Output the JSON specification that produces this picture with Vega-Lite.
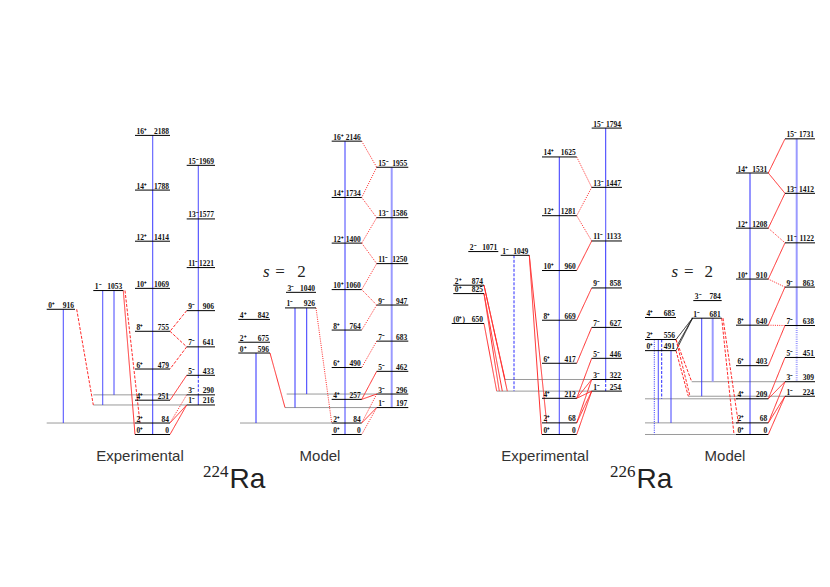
{
"$schema":"https://vega.github.io/schema/vega-lite/v6.json",
"padding":0,
"spacing":0,
"background":"white",
"config":{"view":{"stroke":null},"concat":{"spacing":0}},
"datasets":{
"levels":[
{"nuc":"224","x":135,"x2":170,"e":0,"spin":"0⁺","en":"0"},
{"nuc":"224","x":135,"x2":170,"e":84,"spin":"2⁺","en":"84"},
{"nuc":"224","x":135,"x2":170,"e":251,"spin":"4⁺","en":"251"},
{"nuc":"224","x":135,"x2":170,"e":479,"spin":"6⁺","en":"479"},
{"nuc":"224","x":135,"x2":170,"e":755,"spin":"8⁺","en":"755"},
{"nuc":"224","x":135,"x2":170,"e":1069,"spin":"10⁺","en":"1069"},
{"nuc":"224","x":135,"x2":170,"e":1414,"spin":"12⁺","en":"1414"},
{"nuc":"224","x":135,"x2":170,"e":1788,"spin":"14⁺","en":"1788"},
{"nuc":"224","x":135,"x2":170,"e":2188,"spin":"16⁺","en":"2188"},
{"nuc":"224","x":186.7,"x2":215,"e":216,"spin":"1⁻","en":"216"},
{"nuc":"224","x":186.7,"x2":215,"e":290,"spin":"3⁻","en":"290"},
{"nuc":"224","x":186.7,"x2":215,"e":433,"spin":"5⁻","en":"433"},
{"nuc":"224","x":186.7,"x2":215,"e":641,"spin":"7⁻","en":"641"},
{"nuc":"224","x":186.7,"x2":215,"e":906,"spin":"9⁻","en":"906"},
{"nuc":"224","x":186.7,"x2":215,"e":1221,"spin":"11⁻","en":"1221"},
{"nuc":"224","x":186.7,"x2":215,"e":1577,"spin":"13⁻","en":"1577"},
{"nuc":"224","x":186.7,"x2":215,"e":1969,"spin":"15⁻","en":"1969"},
{"nuc":"224","x":46.7,"x2":75,"e":916,"spin":"0⁺","en":"916"},
{"nuc":"224","x":93.3,"x2":123.3,"e":1053,"spin":"1⁻","en":"1053"},
{"nuc":"224","x":331.7,"x2":361.7,"e":0,"spin":"0⁺","en":"0"},
{"nuc":"224","x":331.7,"x2":361.7,"e":84,"spin":"2⁺","en":"84"},
{"nuc":"224","x":331.7,"x2":361.7,"e":257,"spin":"4⁺","en":"257"},
{"nuc":"224","x":331.7,"x2":361.7,"e":490,"spin":"6⁺","en":"490"},
{"nuc":"224","x":331.7,"x2":361.7,"e":764,"spin":"8⁺","en":"764"},
{"nuc":"224","x":331.7,"x2":361.7,"e":1060,"spin":"10⁺","en":"1060"},
{"nuc":"224","x":331.7,"x2":361.7,"e":1400,"spin":"12⁺","en":"1400"},
{"nuc":"224","x":331.7,"x2":361.7,"e":1734,"spin":"14⁺","en":"1734"},
{"nuc":"224","x":331.7,"x2":361.7,"e":2146,"spin":"16⁺","en":"2146"},
{"nuc":"224","x":376.7,"x2":408.3,"e":197,"spin":"1⁻","en":"197"},
{"nuc":"224","x":376.7,"x2":408.3,"e":296,"spin":"3⁻","en":"296"},
{"nuc":"224","x":376.7,"x2":408.3,"e":462,"spin":"5⁻","en":"462"},
{"nuc":"224","x":376.7,"x2":408.3,"e":683,"spin":"7⁻","en":"683"},
{"nuc":"224","x":376.7,"x2":408.3,"e":947,"spin":"9⁻","en":"947"},
{"nuc":"224","x":376.7,"x2":408.3,"e":1250,"spin":"11⁻","en":"1250"},
{"nuc":"224","x":376.7,"x2":408.3,"e":1586,"spin":"13⁻","en":"1586"},
{"nuc":"224","x":376.7,"x2":408.3,"e":1955,"spin":"15⁻","en":"1955"},
{"nuc":"224","x":238.3,"x2":270,"e":842,"spin":"4⁺","en":"842"},
{"nuc":"224","x":238.3,"x2":270,"e":675,"spin":"2⁺","en":"675"},
{"nuc":"224","x":238.3,"x2":270,"e":596,"spin":"0⁺","en":"596"},
{"nuc":"224","x":286,"x2":316,"e":1040,"spin":"3⁻","en":"1040"},
{"nuc":"224","x":285,"x2":316,"e":926,"spin":"1⁻","en":"926"},
{"nuc":"226","x":542,"x2":576.7,"e":0,"spin":"0⁺","en":"0"},
{"nuc":"226","x":542,"x2":576.7,"e":68,"spin":"2⁺","en":"68"},
{"nuc":"226","x":542,"x2":576.7,"e":212,"spin":"4⁺","en":"212"},
{"nuc":"226","x":542,"x2":576.7,"e":417,"spin":"6⁺","en":"417"},
{"nuc":"226","x":542,"x2":576.7,"e":669,"spin":"8⁺","en":"669"},
{"nuc":"226","x":542,"x2":576.7,"e":960,"spin":"10⁺","en":"960"},
{"nuc":"226","x":542,"x2":576.7,"e":1281,"spin":"12⁺","en":"1281"},
{"nuc":"226","x":542,"x2":576.7,"e":1625,"spin":"14⁺","en":"1625"},
{"nuc":"226","x":591.7,"x2":622,"e":254,"spin":"1⁻","en":"254"},
{"nuc":"226","x":591.7,"x2":622,"e":322,"spin":"3⁻","en":"322"},
{"nuc":"226","x":591.7,"x2":622,"e":446,"spin":"5⁻","en":"446"},
{"nuc":"226","x":591.7,"x2":622,"e":627,"spin":"7⁻","en":"627"},
{"nuc":"226","x":591.7,"x2":622,"e":858,"spin":"9⁻","en":"858"},
{"nuc":"226","x":591.7,"x2":622,"e":1133,"spin":"11⁻","en":"1133"},
{"nuc":"226","x":591.7,"x2":622,"e":1447,"spin":"13⁻","en":"1447"},
{"nuc":"226","x":591.7,"x2":622,"e":1794,"spin":"15⁻","en":"1794"},
{"nuc":"226","x":468.3,"x2":498.3,"e":1071,"spin":"2⁻","en":"1071"},
{"nuc":"226","x":500.7,"x2":529.3,"e":1049,"spin":"1⁻","en":"1049"},
{"nuc":"226","x":453.3,"x2":484,"e":874,"spin":"2⁺","en":"874"},
{"nuc":"226","x":453.3,"x2":484,"e":825,"spin":"0⁺","en":"825"},
{"nuc":"226","x":451.7,"x2":484,"e":650,"spin":"(0⁺)","en":"650"},
{"nuc":"226","x":736,"x2":768.3,"e":0,"spin":"0⁺","en":"0"},
{"nuc":"226","x":736,"x2":768.3,"e":68,"spin":"2⁺","en":"68"},
{"nuc":"226","x":736,"x2":768.3,"e":209,"spin":"4⁺","en":"209"},
{"nuc":"226","x":736,"x2":768.3,"e":403,"spin":"6⁺","en":"403"},
{"nuc":"226","x":736,"x2":768.3,"e":640,"spin":"8⁺","en":"640"},
{"nuc":"226","x":736,"x2":768.3,"e":910,"spin":"10⁺","en":"910"},
{"nuc":"226","x":736,"x2":768.3,"e":1208,"spin":"12⁺","en":"1208"},
{"nuc":"226","x":736,"x2":768.3,"e":1531,"spin":"14⁺","en":"1531"},
{"nuc":"226","x":785,"x2":815,"e":224,"spin":"1⁻","en":"224"},
{"nuc":"226","x":785,"x2":815,"e":309,"spin":"3⁻","en":"309"},
{"nuc":"226","x":785,"x2":815,"e":451,"spin":"5⁻","en":"451"},
{"nuc":"226","x":785,"x2":815,"e":638,"spin":"7⁻","en":"638"},
{"nuc":"226","x":785,"x2":815,"e":863,"spin":"9⁻","en":"863"},
{"nuc":"226","x":785,"x2":815,"e":1122,"spin":"11⁻","en":"1122"},
{"nuc":"226","x":785,"x2":815,"e":1412,"spin":"13⁻","en":"1412"},
{"nuc":"226","x":785,"x2":815,"e":1731,"spin":"15⁻","en":"1731"},
{"nuc":"226","x":645,"x2":676,"e":685,"spin":"4⁺","en":"685"},
{"nuc":"226","x":645,"x2":676,"e":556,"spin":"2⁺","en":"556"},
{"nuc":"226","x":645,"x2":676,"e":491,"spin":"0⁺","en":"491"},
{"nuc":"226","x":693.3,"x2":721.7,"e":784,"spin":"3⁻","en":"784"},
{"nuc":"226","x":691.7,"x2":721.7,"e":681,"spin":"1⁻","en":"681"}
],
"gray":[
{"nuc":"224","x":46.7,"x2":135,"e":84},
{"nuc":"224","x":93.3,"x2":186.7,"e":216},
{"nuc":"224","x":93.3,"x2":186.7,"e":290},
{"nuc":"224","x":240,"x2":331.7,"e":84},
{"nuc":"224","x":285,"x2":376.7,"e":197},
{"nuc":"224","x":286.7,"x2":376.7,"e":296},
{"nuc":"226","x":496.7,"x2":591.7,"e":254},
{"nuc":"226","x":505,"x2":591.7,"e":322},
{"nuc":"226","x":645,"x2":736,"e":0},
{"nuc":"226","x":645,"x2":738,"e":68},
{"nuc":"226","x":645,"x2":738,"e":209},
{"nuc":"226","x":688.3,"x2":785,"e":224},
{"nuc":"226","x":691.7,"x2":785,"e":309}
],
"trans":[
{"nuc":"224","x":152.7,"e":2188,"x2":152.7,"e2":1788,"type":"E2","style":"solid"},
{"nuc":"224","x":152.7,"e":1788,"x2":152.7,"e2":1414,"type":"E2","style":"solid"},
{"nuc":"224","x":152.7,"e":1414,"x2":152.7,"e2":1069,"type":"E2","style":"solid"},
{"nuc":"224","x":152.7,"e":1069,"x2":152.7,"e2":755,"type":"E2","style":"solid"},
{"nuc":"224","x":152.7,"e":755,"x2":152.7,"e2":479,"type":"E2","style":"solid"},
{"nuc":"224","x":152.7,"e":479,"x2":152.7,"e2":251,"type":"E2","style":"solid"},
{"nuc":"224","x":152.7,"e":251,"x2":152.7,"e2":84,"type":"E2","style":"solid"},
{"nuc":"224","x":152.7,"e":84,"x2":152.7,"e2":0,"type":"E2","style":"solid"},
{"nuc":"224","x":198.3,"e":1969,"x2":198.3,"e2":1577,"type":"E2","style":"solid"},
{"nuc":"224","x":198.3,"e":1577,"x2":198.3,"e2":1221,"type":"E2","style":"solid"},
{"nuc":"224","x":198.3,"e":1221,"x2":198.3,"e2":906,"type":"E2","style":"solid"},
{"nuc":"224","x":198.3,"e":906,"x2":198.3,"e2":641,"type":"E2","style":"solid"},
{"nuc":"224","x":198.3,"e":641,"x2":198.3,"e2":433,"type":"E2","style":"solid"},
{"nuc":"224","x":198.3,"e":433,"x2":198.3,"e2":290,"type":"E2","style":"dashed"},
{"nuc":"224","x":198.3,"e":290,"x2":198.3,"e2":216,"type":"E2","style":"solid"},
{"nuc":"224","x":63.3,"e":916,"x2":63.3,"e2":84,"type":"E2","style":"solid"},
{"nuc":"224","x":102.7,"e":1053,"x2":102.7,"e2":216,"type":"E2","style":"solid"},
{"nuc":"224","x":114,"e":1053,"x2":114,"e2":290,"type":"E2","style":"solid"},
{"nuc":"224","x":76.7,"e":916,"x2":93.3,"e2":216,"type":"E1","style":"dashed"},
{"nuc":"224","x":123.3,"e":1053,"x2":135,"e2":0,"type":"E1","style":"solid"},
{"nuc":"224","x":125,"e":1053,"x2":140,"e2":84,"type":"E1","style":"dashed"},
{"nuc":"224","x":186.7,"e":216,"x2":170,"e2":0,"type":"E1","style":"solid"},
{"nuc":"224","x":186.7,"e":216,"x2":170,"e2":84,"type":"E1","style":"solid"},
{"nuc":"224","x":186.7,"e":290,"x2":170,"e2":84,"type":"E1","style":"dotted"},
{"nuc":"224","x":186.7,"e":433,"x2":170,"e2":251,"type":"E1","style":"solid"},
{"nuc":"224","x":186.7,"e":641,"x2":170,"e2":479,"type":"E1","style":"dashed"},
{"nuc":"224","x":170,"e":755,"x2":186.7,"e2":641,"type":"E1","style":"dashed"},
{"nuc":"224","x":186.7,"e":906,"x2":170,"e2":755,"type":"E1","style":"dashed"},
{"nuc":"224","x":345,"e":2146,"x2":345,"e2":1734,"type":"E2","style":"solid"},
{"nuc":"224","x":345,"e":1734,"x2":345,"e2":1400,"type":"E2","style":"solid"},
{"nuc":"224","x":345,"e":1400,"x2":345,"e2":1060,"type":"E2","style":"solid"},
{"nuc":"224","x":345,"e":1060,"x2":345,"e2":764,"type":"E2","style":"solid"},
{"nuc":"224","x":345,"e":764,"x2":345,"e2":490,"type":"E2","style":"solid"},
{"nuc":"224","x":345,"e":490,"x2":345,"e2":257,"type":"E2","style":"solid"},
{"nuc":"224","x":345,"e":257,"x2":345,"e2":84,"type":"E2","style":"solid"},
{"nuc":"224","x":345,"e":84,"x2":345,"e2":0,"type":"E2","style":"solid"},
{"nuc":"224","x":391.7,"e":1955,"x2":391.7,"e2":1586,"type":"E2w","style":"solid"},
{"nuc":"224","x":391.7,"e":1586,"x2":391.7,"e2":1250,"type":"E2w","style":"solid"},
{"nuc":"224","x":391.7,"e":1250,"x2":391.7,"e2":947,"type":"E2w","style":"solid"},
{"nuc":"224","x":391.7,"e":947,"x2":391.7,"e2":683,"type":"E2w","style":"solid"},
{"nuc":"224","x":391.7,"e":683,"x2":391.7,"e2":462,"type":"E2w","style":"solid"},
{"nuc":"224","x":391.7,"e":462,"x2":391.7,"e2":296,"type":"E2w","style":"solid"},
{"nuc":"224","x":391.7,"e":296,"x2":391.7,"e2":197,"type":"E2w","style":"solid"},
{"nuc":"224","x":256,"e":596,"x2":256,"e2":84,"type":"E2","style":"solid"},
{"nuc":"224","x":295,"e":926,"x2":295,"e2":197,"type":"E2","style":"solid"},
{"nuc":"224","x":306.7,"e":926,"x2":306.7,"e2":296,"type":"E2","style":"solid"},
{"nuc":"224","x":270,"e":596,"x2":285,"e2":197,"type":"E1","style":"solid"},
{"nuc":"224","x":316,"e":926,"x2":331.7,"e2":84,"type":"E1","style":"dotted"},
{"nuc":"224","x":361.7,"e":2146,"x2":376.7,"e2":1955,"type":"E1","style":"dotted"},
{"nuc":"224","x":376.7,"e":1955,"x2":361.7,"e2":1734,"type":"E1","style":"dotted"},
{"nuc":"224","x":361.7,"e":1734,"x2":376.7,"e2":1586,"type":"E1","style":"dotted"},
{"nuc":"224","x":376.7,"e":1586,"x2":361.7,"e2":1400,"type":"E1","style":"dotted"},
{"nuc":"224","x":361.7,"e":1400,"x2":376.7,"e2":1250,"type":"E1","style":"dotted"},
{"nuc":"224","x":376.7,"e":1250,"x2":361.7,"e2":1060,"type":"E1","style":"dotted"},
{"nuc":"224","x":361.7,"e":1060,"x2":376.7,"e2":947,"type":"E1","style":"dotted"},
{"nuc":"224","x":376.7,"e":947,"x2":361.7,"e2":764,"type":"E1","style":"dotted"},
{"nuc":"224","x":376.7,"e":683,"x2":361.7,"e2":490,"type":"E1","style":"dotted"},
{"nuc":"224","x":376.7,"e":462,"x2":361.7,"e2":257,"type":"E1","style":"solid"},
{"nuc":"224","x":376.7,"e":296,"x2":361.7,"e2":257,"type":"E1","style":"solid"},
{"nuc":"224","x":376.7,"e":296,"x2":361.7,"e2":84,"type":"E1","style":"dotted"},
{"nuc":"224","x":376.7,"e":197,"x2":361.7,"e2":84,"type":"E1","style":"solid"},
{"nuc":"224","x":376.7,"e":197,"x2":361.7,"e2":0,"type":"E1","style":"dotted"},
{"nuc":"226","x":559.3,"e":1625,"x2":559.3,"e2":1281,"type":"E2","style":"solid"},
{"nuc":"226","x":559.3,"e":1281,"x2":559.3,"e2":960,"type":"E2","style":"solid"},
{"nuc":"226","x":559.3,"e":960,"x2":559.3,"e2":669,"type":"E2","style":"solid"},
{"nuc":"226","x":559.3,"e":669,"x2":559.3,"e2":417,"type":"E2","style":"solid"},
{"nuc":"226","x":559.3,"e":417,"x2":559.3,"e2":212,"type":"E2","style":"solid"},
{"nuc":"226","x":559.3,"e":212,"x2":559.3,"e2":68,"type":"E2","style":"solid"},
{"nuc":"226","x":559.3,"e":68,"x2":559.3,"e2":0,"type":"E2","style":"solid"},
{"nuc":"226","x":605.7,"e":1794,"x2":605.7,"e2":1447,"type":"E2","style":"solid"},
{"nuc":"226","x":605.7,"e":1447,"x2":605.7,"e2":1133,"type":"E2","style":"solid"},
{"nuc":"226","x":605.7,"e":1133,"x2":605.7,"e2":858,"type":"E2","style":"solid"},
{"nuc":"226","x":605.7,"e":858,"x2":605.7,"e2":627,"type":"E2","style":"solid"},
{"nuc":"226","x":605.7,"e":627,"x2":605.7,"e2":446,"type":"E2","style":"solid"},
{"nuc":"226","x":605.7,"e":446,"x2":605.7,"e2":322,"type":"E2","style":"solid"},
{"nuc":"226","x":605.7,"e":322,"x2":605.7,"e2":254,"type":"E2","style":"dashed"},
{"nuc":"226","x":514,"e":1049,"x2":514,"e2":254,"type":"E2","style":"dashed"},
{"nuc":"226","x":529.3,"e":1049,"x2":541.7,"e2":0,"type":"E1","style":"solid"},
{"nuc":"226","x":529.3,"e":1049,"x2":546.7,"e2":68,"type":"E1","style":"solid"},
{"nuc":"226","x":484,"e":650,"x2":496.7,"e2":254,"type":"E1","style":"solid"},
{"nuc":"226","x":484,"e":825,"x2":499.3,"e2":254,"type":"E1","style":"solid"},
{"nuc":"226","x":484,"e":825,"x2":502.3,"e2":254,"type":"E1","style":"solid"},
{"nuc":"226","x":484,"e":874,"x2":505,"e2":322,"type":"E1","style":"solid"},
{"nuc":"226","x":484,"e":874,"x2":507.3,"e2":254,"type":"E1","style":"solid"},
{"nuc":"226","x":576.7,"e":1625,"x2":591.7,"e2":1447,"type":"E1","style":"dotted"},
{"nuc":"226","x":591.7,"e":1447,"x2":576.7,"e2":1281,"type":"E1","style":"dotted"},
{"nuc":"226","x":576.7,"e":1281,"x2":591.7,"e2":1133,"type":"E1","style":"dotted"},
{"nuc":"226","x":591.7,"e":1133,"x2":576.7,"e2":960,"type":"E1","style":"solid"},
{"nuc":"226","x":591.7,"e":858,"x2":576.7,"e2":669,"type":"E1","style":"solid"},
{"nuc":"226","x":591.7,"e":627,"x2":576.7,"e2":417,"type":"E1","style":"solid"},
{"nuc":"226","x":591.7,"e":446,"x2":576.7,"e2":212,"type":"E1","style":"solid"},
{"nuc":"226","x":591.7,"e":322,"x2":576.7,"e2":212,"type":"E1","style":"solid"},
{"nuc":"226","x":591.7,"e":254,"x2":576.7,"e2":212,"type":"E1","style":"solid"},
{"nuc":"226","x":591.7,"e":322,"x2":576.7,"e2":68,"type":"E1","style":"solid"},
{"nuc":"226","x":591.7,"e":254,"x2":576.7,"e2":68,"type":"E1","style":"solid"},
{"nuc":"226","x":591.7,"e":254,"x2":576.7,"e2":0,"type":"E1","style":"solid"},
{"nuc":"226","x":750,"e":1531,"x2":750,"e2":1208,"type":"E2","style":"solid"},
{"nuc":"226","x":750,"e":1208,"x2":750,"e2":910,"type":"E2","style":"solid"},
{"nuc":"226","x":750,"e":910,"x2":750,"e2":640,"type":"E2","style":"solid"},
{"nuc":"226","x":750,"e":640,"x2":750,"e2":403,"type":"E2","style":"solid"},
{"nuc":"226","x":750,"e":403,"x2":750,"e2":209,"type":"E2","style":"solid"},
{"nuc":"226","x":750,"e":209,"x2":750,"e2":68,"type":"E2","style":"solid"},
{"nuc":"226","x":750,"e":68,"x2":750,"e2":0,"type":"E2","style":"solid"},
{"nuc":"226","x":796.7,"e":1731,"x2":796.7,"e2":1412,"type":"E2w","style":"solid"},
{"nuc":"226","x":796.7,"e":1412,"x2":796.7,"e2":1122,"type":"E2w","style":"solid"},
{"nuc":"226","x":796.7,"e":1122,"x2":796.7,"e2":863,"type":"E2w","style":"solid"},
{"nuc":"226","x":796.7,"e":863,"x2":796.7,"e2":638,"type":"E2w","style":"solid"},
{"nuc":"226","x":796.7,"e":638,"x2":796.7,"e2":451,"type":"E2w","style":"dotted"},
{"nuc":"226","x":796.7,"e":451,"x2":796.7,"e2":309,"type":"E2w","style":"dotted"},
{"nuc":"226","x":654.3,"e":556,"x2":654.3,"e2":0,"type":"E2","style":"dotted"},
{"nuc":"226","x":658.3,"e":556,"x2":658.3,"e2":68,"type":"E2","style":"solid"},
{"nuc":"226","x":661.7,"e":556,"x2":661.7,"e2":209,"type":"E2","style":"dashed"},
{"nuc":"226","x":671,"e":491,"x2":671,"e2":68,"type":"E2","style":"solid"},
{"nuc":"226","x":701.7,"e":681,"x2":701.7,"e2":224,"type":"E2","style":"solid"},
{"nuc":"226","x":712.7,"e":681,"x2":712.7,"e2":309,"type":"E2w","style":"solid"},
{"nuc":"226","x":692.5,"e":681,"x2":676,"e2":556,"type":"X","style":"solid"},
{"nuc":"226","x":692.5,"e":681,"x2":677.5,"e2":525,"type":"X","style":"solid"},
{"nuc":"226","x":692.5,"e":681,"x2":676,"e2":491,"type":"X","style":"solid"},
{"nuc":"226","x":676,"e":556,"x2":691.7,"e2":309,"type":"E1","style":"dashed"},
{"nuc":"226","x":676,"e":556,"x2":690,"e2":224,"type":"E1","style":"dashed"},
{"nuc":"226","x":676,"e":491,"x2":688.3,"e2":224,"type":"E1","style":"dashed"},
{"nuc":"226","x":721.7,"e":681,"x2":734,"e2":0,"type":"E1","style":"dashed"},
{"nuc":"226","x":723,"e":681,"x2":738.3,"e2":68,"type":"E1","style":"dashed"},
{"nuc":"226","x":785,"e":1731,"x2":768.3,"e2":1531,"type":"E1","style":"solid"},
{"nuc":"226","x":768.3,"e":1531,"x2":785,"e2":1412,"type":"E1","style":"solid"},
{"nuc":"226","x":785,"e":1412,"x2":768.3,"e2":1208,"type":"E1","style":"solid"},
{"nuc":"226","x":768.3,"e":1208,"x2":785,"e2":1122,"type":"E1","style":"dotted"},
{"nuc":"226","x":785,"e":1122,"x2":768.3,"e2":910,"type":"E1","style":"solid"},
{"nuc":"226","x":768.3,"e":910,"x2":785,"e2":863,"type":"E1","style":"dotted"},
{"nuc":"226","x":785,"e":863,"x2":768.3,"e2":640,"type":"E1","style":"solid"},
{"nuc":"226","x":768.3,"e":640,"x2":785,"e2":638,"type":"E1","style":"dotted"},
{"nuc":"226","x":785,"e":638,"x2":768.3,"e2":403,"type":"E1","style":"solid"},
{"nuc":"226","x":785,"e":451,"x2":768.3,"e2":209,"type":"E1","style":"solid"},
{"nuc":"226","x":785,"e":309,"x2":768.3,"e2":209,"type":"E1","style":"solid"},
{"nuc":"226","x":785,"e":309,"x2":768.3,"e2":68,"type":"E1","style":"solid"},
{"nuc":"226","x":785,"e":224,"x2":768.3,"e2":68,"type":"E1","style":"solid"},
{"nuc":"226","x":785,"e":224,"x2":768.3,"e2":0,"type":"E1","style":"solid"}
],
"notes":[
{"nuc":"224","role":"cap","x":140,"e":-191.7,"text":"Experimental"},
{"nuc":"224","role":"cap","x":320,"e":-191.7,"text":"Model"},
{"nuc":"224","role":"mass","x":228.5,"e":-308.7,"text":"224"},
{"nuc":"224","role":"elem","x":229.5,"e":-393.6,"text":"Ra"},
{"nuc":"224","role":"s","x":266.3,"e":1150,"text":"s"},
{"nuc":"224","role":"math","x":280,"e":1150,"text":"="},
{"nuc":"224","role":"math","x":301.5,"e":1150,"text":"2"},
{"nuc":"226","role":"cap","x":545,"e":-153.4,"text":"Experimental"},
{"nuc":"226","role":"cap","x":725,"e":-153.4,"text":"Model"},
{"nuc":"226","role":"mass","x":635.5,"e":-247,"text":"226"},
{"nuc":"226","role":"elem","x":636.5,"e":-315,"text":"Ra"},
{"nuc":"226","role":"s","x":674.7,"e":920.4,"text":"s"},
{"nuc":"226","role":"math","x":688.7,"e":920.4,"text":"="},
{"nuc":"226","role":"math","x":708.7,"e":920.4,"text":"2"}
]
},
"hconcat":[
{
"width":415,"height":587,
"encoding":{
"x":{"field":"x","type":"quantitative","scale":{"domain":[0,415],"nice":false,"zero":false},"axis":null},
"y":{"field":"e","type":"quantitative","scale":{"domain":[-1115.6,3178.5],"nice":false,"zero":false},"axis":null}
},
"layer":[
{"data":{"name":"gray"},"transform":[{"filter":"datum.nuc=='224'"}],"mark":{"type":"rule","color":"#9a9a9a","strokeWidth":1},"encoding":{"x2":{"field":"x2"}}},
{"data":{"name":"trans"},"transform":[{"filter":"datum.nuc=='224' && datum.type=='E2w'"}],"mark":{"type":"rule","color":"#9a9aff","strokeWidth":2},"encoding":{"x2":{"field":"x2"},"y2":{"field":"e2"},
"strokeDash":{"field":"style","type":"nominal","scale":{"domain":["solid","dashed","dotted"],"range":[[1,0],[3,1.5],[1,1.2]]},"legend":null}}},
{"data":{"name":"trans"},"transform":[{"filter":"datum.nuc=='224' && datum.type!='E2w'"}],"mark":{"type":"rule","strokeWidth":1},"encoding":{"x2":{"field":"x2"},"y2":{"field":"e2"},
"color":{"field":"type","type":"nominal","scale":{"domain":["E2","E1","X"],"range":["#2a2aff","#ff2a2a","#222222"]},"legend":null},
"strokeDash":{"field":"style","type":"nominal","scale":{"domain":["solid","dashed","dotted"],"range":[[1,0],[3,1.5],[1,1.2]]},"legend":null}}},
{"data":{"name":"levels"},"transform":[{"filter":"datum.nuc=='224'"}],"mark":{"type":"rule","color":"#000000","strokeWidth":1},"encoding":{"x2":{"field":"x2"}}},
{"data":{"name":"levels"},"transform":[{"filter":"datum.nuc=='224'"}],"mark":{"type":"text","align":"left","baseline":"alphabetic","dx":1.5,"dy":-1.5,"font":"Liberation Serif","fontSize":7.5,"fontWeight":"bold","color":"#111"},"encoding":{"text":{"field":"spin"}}},
{"data":{"name":"levels"},"transform":[{"filter":"datum.nuc=='224'"}],"mark":{"type":"text","align":"right","baseline":"alphabetic","dx":-1,"dy":-1.5,"font":"Liberation Serif","fontSize":7.5,"fontWeight":"bold","color":"#111"},"encoding":{"x":{"field":"x2","type":"quantitative","scale":{"domain":[0,415],"nice":false,"zero":false},"axis":null},"text":{"field":"en"}}},
{"data":{"name":"notes"},"transform":[{"filter":"datum.nuc=='224' && datum.role=='cap'"}],"mark":{"type":"text","align":"center","baseline":"alphabetic","font":"Liberation Sans","fontSize":15,"color":"#333"},"encoding":{"text":{"field":"text"}}},
{"data":{"name":"notes"},"transform":[{"filter":"datum.nuc=='224' && datum.role=='mass'"}],"mark":{"type":"text","align":"right","baseline":"alphabetic","font":"Liberation Serif","fontSize":17,"color":"#222"},"encoding":{"text":{"field":"text"}}},
{"data":{"name":"notes"},"transform":[{"filter":"datum.nuc=='224' && datum.role=='elem'"}],"mark":{"type":"text","align":"left","baseline":"alphabetic","font":"Liberation Sans","fontSize":28,"color":"#222"},"encoding":{"text":{"field":"text"}}},
{"data":{"name":"notes"},"transform":[{"filter":"datum.nuc=='224' && datum.role=='s'"}],"mark":{"type":"text","align":"center","baseline":"alphabetic","font":"Liberation Serif","fontStyle":"italic","fontSize":17,"color":"#222"},"encoding":{"text":{"field":"text"}}},
{"data":{"name":"notes"},"transform":[{"filter":"datum.nuc=='224' && datum.role=='math'"}],"mark":{"type":"text","align":"center","baseline":"alphabetic","font":"Liberation Serif","fontSize":17,"color":"#222"},"encoding":{"text":{"field":"text"}}}
]
},
{
"width":415,"height":587,
"encoding":{
"x":{"field":"x","type":"quantitative","scale":{"domain":[415,830],"nice":false,"zero":false},"axis":null},
"y":{"field":"e","type":"quantitative","scale":{"domain":[-892.9,2543.9],"nice":false,"zero":false},"axis":null}
},
"layer":[
{"data":{"name":"gray"},"transform":[{"filter":"datum.nuc=='226'"}],"mark":{"type":"rule","color":"#9a9a9a","strokeWidth":1},"encoding":{"x2":{"field":"x2"}}},
{"data":{"name":"trans"},"transform":[{"filter":"datum.nuc=='226' && datum.type=='E2w'"}],"mark":{"type":"rule","color":"#9a9aff","strokeWidth":2},"encoding":{"x2":{"field":"x2"},"y2":{"field":"e2"},
"strokeDash":{"field":"style","type":"nominal","scale":{"domain":["solid","dashed","dotted"],"range":[[1,0],[3,1.5],[1,1.2]]},"legend":null}}},
{"data":{"name":"trans"},"transform":[{"filter":"datum.nuc=='226' && datum.type!='E2w'"}],"mark":{"type":"rule","strokeWidth":1},"encoding":{"x2":{"field":"x2"},"y2":{"field":"e2"},
"color":{"field":"type","type":"nominal","scale":{"domain":["E2","E1","X"],"range":["#2a2aff","#ff2a2a","#222222"]},"legend":null},
"strokeDash":{"field":"style","type":"nominal","scale":{"domain":["solid","dashed","dotted"],"range":[[1,0],[3,1.5],[1,1.2]]},"legend":null}}},
{"data":{"name":"levels"},"transform":[{"filter":"datum.nuc=='226'"}],"mark":{"type":"rule","color":"#000000","strokeWidth":1},"encoding":{"x2":{"field":"x2"}}},
{"data":{"name":"levels"},"transform":[{"filter":"datum.nuc=='226'"}],"mark":{"type":"text","align":"left","baseline":"alphabetic","dx":1.5,"dy":-1.5,"font":"Liberation Serif","fontSize":7.5,"fontWeight":"bold","color":"#111"},"encoding":{"text":{"field":"spin"}}},
{"data":{"name":"levels"},"transform":[{"filter":"datum.nuc=='226'"}],"mark":{"type":"text","align":"right","baseline":"alphabetic","dx":-1,"dy":-1.5,"font":"Liberation Serif","fontSize":7.5,"fontWeight":"bold","color":"#111"},"encoding":{"x":{"field":"x2","type":"quantitative","scale":{"domain":[415,830],"nice":false,"zero":false},"axis":null},"text":{"field":"en"}}},
{"data":{"name":"notes"},"transform":[{"filter":"datum.nuc=='226' && datum.role=='cap'"}],"mark":{"type":"text","align":"center","baseline":"alphabetic","font":"Liberation Sans","fontSize":15,"color":"#333"},"encoding":{"text":{"field":"text"}}},
{"data":{"name":"notes"},"transform":[{"filter":"datum.nuc=='226' && datum.role=='mass'"}],"mark":{"type":"text","align":"right","baseline":"alphabetic","font":"Liberation Serif","fontSize":17,"color":"#222"},"encoding":{"text":{"field":"text"}}},
{"data":{"name":"notes"},"transform":[{"filter":"datum.nuc=='226' && datum.role=='elem'"}],"mark":{"type":"text","align":"left","baseline":"alphabetic","font":"Liberation Sans","fontSize":28,"color":"#222"},"encoding":{"text":{"field":"text"}}},
{"data":{"name":"notes"},"transform":[{"filter":"datum.nuc=='226' && datum.role=='s'"}],"mark":{"type":"text","align":"center","baseline":"alphabetic","font":"Liberation Serif","fontStyle":"italic","fontSize":17,"color":"#222"},"encoding":{"text":{"field":"text"}}},
{"data":{"name":"notes"},"transform":[{"filter":"datum.nuc=='226' && datum.role=='math'"}],"mark":{"type":"text","align":"center","baseline":"alphabetic","font":"Liberation Serif","fontSize":17,"color":"#222"},"encoding":{"text":{"field":"text"}}}
]
}
]
}
